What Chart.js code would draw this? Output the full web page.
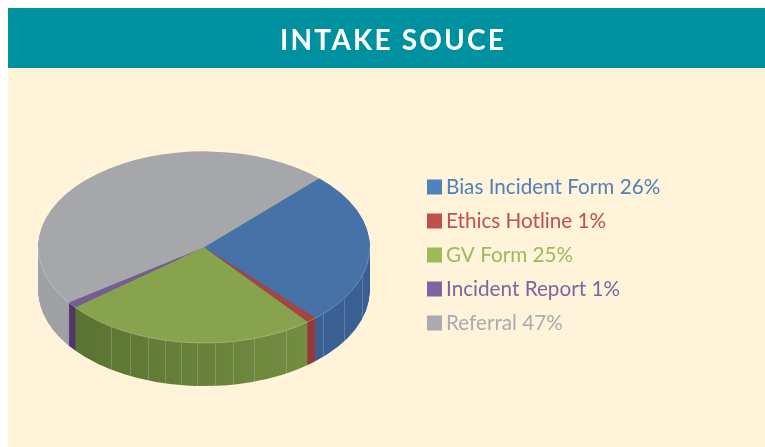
<!DOCTYPE html>
<html>
<head>
<meta charset="utf-8">
<script src="https://cdn.jsdelivr.net/npm/chart.js@4/dist/chart.umd.js"></script>
<style>
html,body{margin:0;padding:0;background:#fff;width:765px;height:447px;overflow:hidden}
#panel{position:absolute;left:8px;top:8px;width:757px;height:439px;background:#fff3d9}
#band{position:absolute;left:8px;top:8px;width:757px;height:60px;background:#0091a0}
canvas{position:absolute;left:0;top:0}
</style>
</head>
<body>
<div id="panel"></div><div id="band"></div>
<canvas id="c" width="765" height="447"></canvas>
<script>
const titleText = 'INTAKE SOUCE';
const categories = ['Bias Incident Form', 'Ethics Hotline', 'GV Form', 'Incident Report', 'Referral'];
const values = [26, 1, 25, 1, 47];
const topColors = ['#4672a8', '#a54543', '#88a34d', '#775c96', '#a6a7ab'];
const legendColors = ['#4f81bd', '#c0504d', '#9bbb59', '#8064a2', '#aaabb0'];
const sideLeft = ['#3a6093', '#96393a', '#566f30', '#53356e', '#a0a1a5'];
const sideRight = ['#3a6093', '#96393a', '#7a9445', '#53356e', '#929397'];
const seamAngles = [-34, -26.5, -19.7, -13.6, -8, -2.4, 3.8, 10, 17.5, 29.6, 45.8, 57.5, 72];
const squash = 0.578, depth = 43;

const pie3d = {
  id: 'pie3d',
  afterLayout(chart) {
    const lg = chart.legend, w = lg.width;
    lg.left = 420.05; lg.right = lg.left + w; lg.top = 163.4; lg.bottom = lg.top + lg.height;
    const t = chart.titleBlock;
    t.left = 8; t.right = 778.2; t.width = 770.2;
    if (!t.spaced) {
      const draw = t.draw;
      t.spaced = true;
      t.draw = function () {
        this.ctx.letterSpacing = '2.2px';
        draw.call(this);
        this.ctx.letterSpacing = '0px';
      };
    }
  },
  beforeDatasetDraw(chart, args) {
    const ctx = chart.ctx, arcs = chart.getDatasetMeta(args.index).data;
    const cx = arcs[0].x, cy = arcs[0].y, r = arcs[0].outerRadius;
    const xf = (d) => { ctx.translate(cx, cy + d); ctx.scale(1, squash); ctx.translate(-cx, -cy); };
    const fills = sideLeft.map((c, i) => {
      const g = ctx.createLinearGradient(cx - r, 0, cx + r, 0);
      g.addColorStop(0, c); g.addColorStop(1, sideRight[i]);
      return g;
    });
    for (let d = depth; d >= 1; d--) {
      ctx.save(); xf(d);
      arcs.forEach((a, i) => {
        const o = a.options;
        a.options = Object.create(o, {backgroundColor: {value: fills[i]}});
        a.draw(ctx);
        a.options = o;
      });
      ctx.restore();
    }
    ctx.save();
    ctx.strokeStyle = 'rgba(255,255,255,0.18)'; ctx.lineWidth = 1;
    seamAngles.forEach(deg => {
      const t = deg * Math.PI / 180;
      const x = Math.round(cx + r * Math.sin(t)) + 0.5, y = cy + squash * r * Math.cos(t);
      ctx.beginPath(); ctx.moveTo(x, y); ctx.lineTo(x, y + depth * 0.99); ctx.stroke();
    });
    ctx.restore();
    ctx.save(); xf(0);
    arcs.forEach(a => a.draw(ctx));
    ctx.restore();
    ctx.save();
    ctx.strokeStyle = 'rgba(255,255,255,0.3)'; ctx.lineWidth = 0.8;
    ctx.beginPath(); ctx.ellipse(cx, cy, r, squash * r, 0, 0, Math.PI); ctx.stroke();
    ctx.restore();
    return false;
  }
};

new Chart(document.getElementById('c'), {
  type: 'pie',
  plugins: [pie3d],
  data: {
    labels: categories,
    datasets: [{data: values, backgroundColor: topColors, borderWidth: 0, hoverOffset: 0}]
  },
  options: {
    responsive: false,
    animation: false,
    rotation: 44,
    layout: {padding: {left: 38, right: 395, top: 0, bottom: 34}},
    plugins: {
      tooltip: {enabled: false},
      title: {
        display: true,
        text: titleText,
        color: '#ffffff',
        font: {family: 'Lato', size: 28, weight: '700'},
        padding: {top: 24.2, bottom: 23.6}
      },
      legend: {
        position: 'chartArea',
        align: 'start',
        labels: {
          boxWidth: 2.3,
          boxHeight: 2.3,
          padding: 13.3,
          font: {family: 'Lato', size: 20.7},
          generateLabels: () => categories.map((c, i) => ({
            text: c + ' ' + values[i] + '%',
            fillStyle: legendColors[i],
            strokeStyle: legendColors[i],
            lineWidth: 12.7,
            fontColor: legendColors[i],
            hidden: false,
            index: i
          }))
        }
      }
    }
  }
});
</script>
</body>
</html>
